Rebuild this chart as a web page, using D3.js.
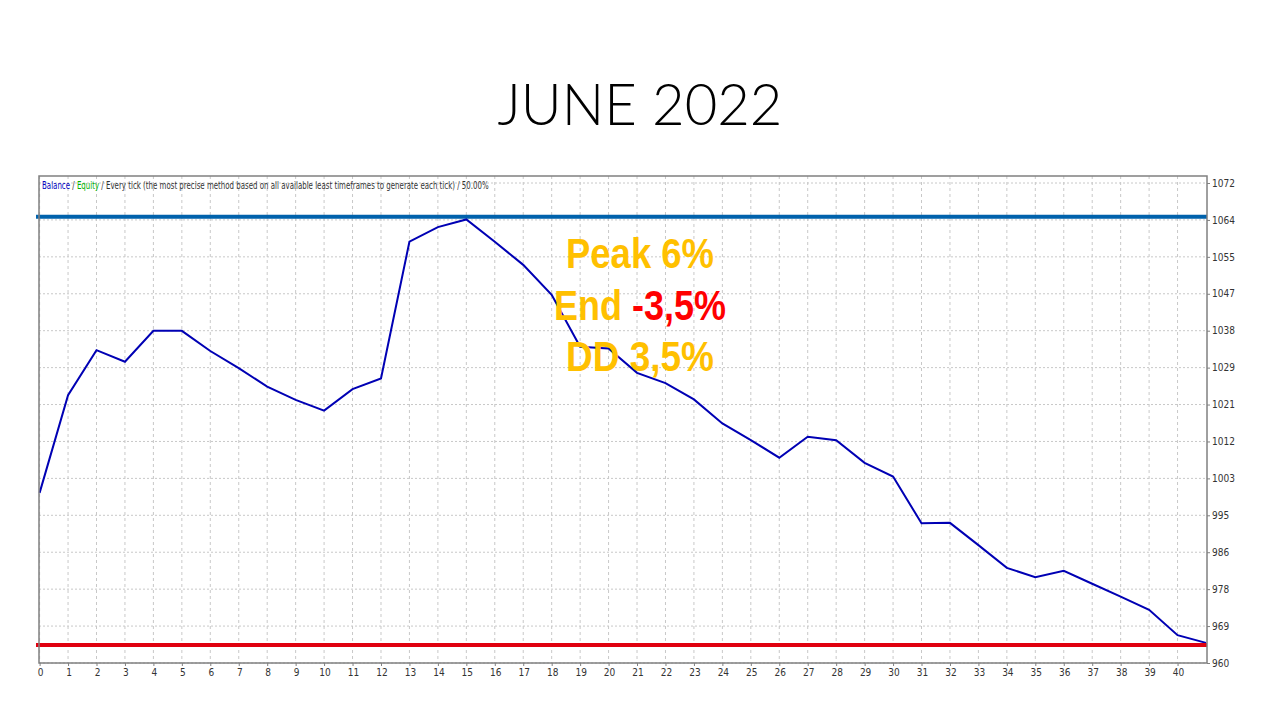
<!DOCTYPE html>
<html>
<head>
<meta charset="utf-8">
<script src="https://cdn.jsdelivr.net/npm/d3@7"></script>
<style>
  body { margin: 0; background: #fff; }
  svg { display: block; }
  .small { font-family: "DejaVu Sans Condensed", "Liberation Sans", sans-serif; font-size: 10px; fill: #333; }
</style>
</head>
<body>
<div id="chart"></div>
<script>
// balance by deal number
const dealIndex = d3.range(42);
const balance = [
    999.7, 1022.5, 1033.0, 1030.3, 1037.5, 1037.5, 1032.8, 1028.8, 1024.5, 1021.4,
    1018.9, 1023.9, 1026.4, 1058.3, 1061.7, 1063.5, 1058.3, 1052.9, 1045.9, 1033.8,
    1033.4, 1027.7, 1025.3, 1021.5, 1015.9, 1012.0, 1007.9, 1012.8, 1012.0, 1006.7,
    1003.5, 992.6, 992.7, 987.5, 982.2, 980.0, 981.5, 978.5, 975.5, 972.4,
    966.5, 964.7
];
const xTickLabels = d3.range(41).map(String);
const yTickLabels = ["960", "969", "978", "986", "995", "1003", "1012", "1021", "1029", "1038", "1047", "1055", "1064", "1072"];
const peakLevel = 1064.1;
const endLevel = 964.2;
const notes = [
    [{ t: "Peak 6%", c: "#FFC000" }],
    [{ t: "End ", c: "#FFC000" }, { t: "-3,5%", c: "#FF0000" }],
    [{ t: "DD 3,5%", c: "#FFC000" }]
];
const noteWidths = [148, 172, 148];

const width = 1280, height = 720;
const frame = { left: 39, top: 176, right: 1207, bottom: 663 };

const svg = d3.select("#chart")
    .append("svg")
    .attr("width", width)
    .attr("height", height);

const x = d3.scaleLinear().domain([0, 41]).range([39.6, 1206]);
const y = d3.scaleLinear().domain([960, 1072]).range([663, 183]);
const yTicks = d3.range(yTickLabels.length).map(k => 960 + k * 112 / 13);

// squeeze a text sideways to a wanted width, anchored at (ax, ay)
function fitWidth(sel, wanted, ax, ay, anchorMiddle) {
    const w = sel.node().getComputedTextLength();
    const k = wanted / w;
    sel.attr("transform", "translate(" + ax + "," + ay + ") scale(" + k + ",1)");
}

// title
svg.append("text")
    .attr("x", 640)
    .attr("y", 125)
    .attr("text-anchor", "middle")
    .attr("textLength", 285)
    .attr("lengthAdjust", "spacingAndGlyphs")
    .style("font-family", "Lato, 'Open Sans', sans-serif")
    .style("font-weight", 300)
    .style("font-size", "57px")
    .style("fill", "#000")
    .text("JUNE 2022");

// grid
svg.append("g")
    .selectAll("line")
    .data(xTickLabels)
    .enter()
    .append("line")
    .attr("x1", (d, i) => x(i))
    .attr("x2", (d, i) => x(i))
    .attr("y1", frame.top)
    .attr("y2", frame.bottom)
    .attr("stroke", "#c8c8c8")
    .attr("stroke-dasharray", "3,3");

svg.append("g")
    .selectAll("line")
    .data(yTicks)
    .enter()
    .append("line")
    .attr("x1", frame.left)
    .attr("x2", frame.right)
    .attr("y1", d => y(d))
    .attr("y2", d => y(d))
    .attr("stroke", "#c8c8c8")
    .attr("stroke-dasharray", "2,2");

// header
const header = svg.append("text")
    .attr("class", "small")
    .style("font-size", "10.5px");
header.append("tspan").style("fill", "#0000c0").text("Balance");
header.append("tspan").text(" / ");
header.append("tspan").style("fill", "#00b000").text("Equity");
header.append("tspan").text(" / Every tick (the most precise method based on all available least timeframes to generate each tick) / 50.00%");
fitWidth(header, 447, 42, 189);

// level lines
svg.append("line")
    .attr("x1", 36).attr("x2", frame.right)
    .attr("y1", y(peakLevel)).attr("y2", y(peakLevel))
    .attr("stroke", "#0062ac")
    .attr("stroke-width", 4);

// balance line
const line = d3.line()
    .x((d, i) => x(dealIndex[i]))
    .y(d => y(d));

svg.append("path")
    .datum(balance)
    .attr("fill", "none")
    .attr("stroke", "#0000b4")
    .attr("stroke-width", 2)
    .attr("d", line);

svg.append("line")
    .attr("x1", 36).attr("x2", frame.right)
    .attr("y1", y(endLevel)).attr("y2", y(endLevel))
    .attr("stroke", "#e0000f")
    .attr("stroke-width", 4);

// frame
svg.append("rect")
    .attr("x", frame.left)
    .attr("y", frame.top)
    .attr("width", frame.right - frame.left)
    .attr("height", frame.bottom - frame.top)
    .attr("fill", "none")
    .attr("stroke", "#808080")
    .attr("stroke-width", 1.5);

// axes
const xAxis = svg.append("g")
    .attr("transform", "translate(0," + frame.bottom + ")")
    .call(d3.axisBottom(x)
        .tickValues(d3.range(xTickLabels.length))
        .tickFormat((d, i) => xTickLabels[i])
        .tickSize(3)
        .tickPadding(3));
xAxis.select(".domain").remove();
xAxis.selectAll("line").attr("stroke", "#808080");
xAxis.selectAll("text").attr("class", "small").attr("dx", "0.5");

const yAxis = svg.append("g")
    .attr("transform", "translate(" + frame.right + ",0)")
    .call(d3.axisRight(y)
        .tickValues(yTicks)
        .tickFormat((d, i) => yTickLabels[i])
        .tickSize(3)
        .tickPadding(2));
yAxis.select(".domain").remove();
yAxis.selectAll("line").attr("stroke", "#808080");
yAxis.selectAll("text").attr("class", "small");

// annotation
const note = svg.append("g");
notes.forEach((parts, row) => {
    const t = note.append("text")
        .attr("text-anchor", "middle")
        .style("font-family", "'Liberation Sans', Arial, sans-serif")
        .style("font-weight", "bold")
        .style("font-size", "42px");
    parts.forEach(p => t.append("tspan").style("fill", p.c).text(p.t));
    fitWidth(t, noteWidths[row], 640, 268 + row * 51.7);
});
</script>
</body>
</html>
